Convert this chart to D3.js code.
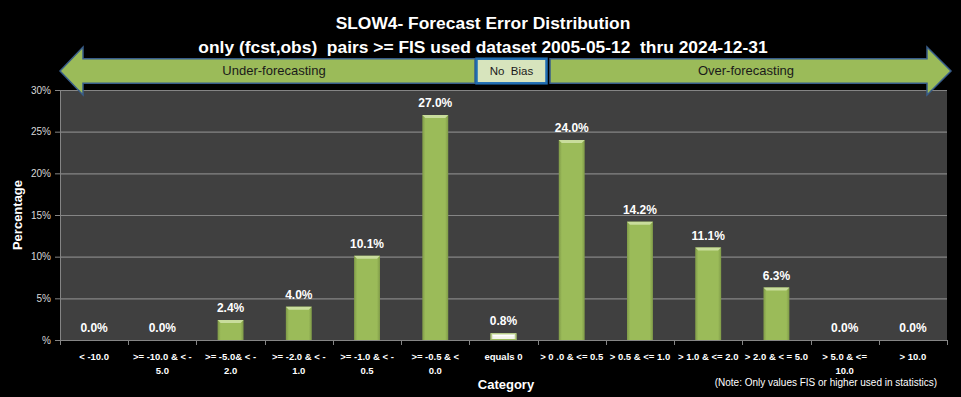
<!DOCTYPE html>
<html>
<head>
<meta charset="utf-8">
<script src="https://cdn.jsdelivr.net/npm/d3@7"></script>
<style>
  html, body { margin: 0; padding: 0; background: #000; }
  svg { display: block; }
  text { font-family: "Liberation Sans", Arial, sans-serif; }
</style>
</head>
<body>
<svg id="chart"></svg>
<script>
// chart data
var titleLines = ["SLOW4- Forecast Error Distribution",
  "only (fcst,obs)  pairs >= FIS used dataset 2005-05-12  thru 2024-12-31"]
var categories = ["< -10.0", ">= -10.0 & < -\n5.0", ">= -5.0& < -\n2.0", ">= -2.0 & < -\n1.0",
  ">= -1.0 & < -\n0.5", ">= -0.5 & <\n0.0", "equals 0", "> 0 .0 & <= 0.5", "> 0.5 & <= 1.0",
  "> 1.0 & <= 2.0", "> 2.0 & < = 5.0", "> 5.0 & <=\n10.0", "> 10.0"]
var percents = [0.0, 0.0, 2.4, 4.0, 10.1, 27.0, 0.8, 24.0, 14.2, 11.1, 6.3, 0.0, 0.0]
var yTicks = [0, 5, 10, 15, 20, 25, 30]

var width = 961,
  height = 397,
  margin = { top: 90, right: 14, bottom: 57, left: 60 },
  plotW = width - margin.left - margin.right,
  plotH = height - margin.top - margin.bottom

var svg = d3.select("#chart")
  .attr("width", width)
  .attr("height", height)

var defs = svg.append("defs")

// bar shading, roughly like the excel bevel
function barGradient(id, mid, dark) {
  var g = defs.append("linearGradient").attr("id", id)
    .attr("x1", 0).attr("x2", 1).attr("y1", 0).attr("y2", 0)
  g.append("stop").attr("offset", "0%").attr("stop-color", dark)
  g.append("stop").attr("offset", "12%").attr("stop-color", mid)
  g.append("stop").attr("offset", "88%").attr("stop-color", mid)
  g.append("stop").attr("offset", "100%").attr("stop-color", dark)
}
barGradient("barGreen", "#9bbb59", "#7f9a48")
barGradient("barWhite", "#f4f6ec", "#c9d3ad")

var data = categories.map(function (c, i) {
  return { cat: c, value: percents[i] }
})

var x = d3.scaleBand()
  .domain(categories)
  .range([0, plotW])
  .paddingInner(0.62)
  .paddingOuter(0.31)

var y = d3.scaleLinear()
  .domain([0, 30])
  .range([plotH, 0])

var plot = svg.append("g")
  .attr("transform", "translate(" + margin.left + "," + margin.top + ")")

plot.append("rect")
  .attr("width", plotW)
  .attr("height", plotH)
  .attr("fill", "#404040")

// gridlines
plot.selectAll("line.grid")
  .data(yTicks.filter(function (d) { return d > 0 }))
  .enter()
  .append("line")
  .attr("class", "grid")
  .attr("x1", 0)
  .attr("x2", plotW)
  .attr("y1", function (d) { return y(d) + 0.5 })
  .attr("y2", function (d) { return y(d) + 0.5 })
  .attr("stroke", "#858585")
  .attr("stroke-width", 1.2)

// y axis
var yAxis = d3.axisLeft(y)
  .tickValues(yTicks)
  .tickSize(5)
  .tickPadding(4)
  .tickFormat(function (d) { return d === 0 ? "%" : d + "%" })

var yg = plot.append("g").call(yAxis)
yg.select(".domain").attr("stroke", "#858585")
yg.selectAll(".tick line").attr("stroke", "#858585")
yg.selectAll(".tick text")
  .attr("fill", "#d9d9d9")
  .style("font-family", "'Liberation Sans', Arial, sans-serif")
  .style("font-size", "10px")

// x axis
var xg = plot.append("g")
  .attr("transform", "translate(0," + plotH + ")")

xg.append("line")
  .attr("x1", 0).attr("x2", plotW)
  .attr("y1", 0.5).attr("y2", 0.5)
  .attr("stroke", "#858585")

xg.selectAll("line.tick")
  .data(d3.range(categories.length + 1))
  .enter()
  .append("line")
  .attr("class", "tick")
  .attr("x1", function (i) { return Math.round(i * x.step()) + 0.5 })
  .attr("x2", function (i) { return Math.round(i * x.step()) + 0.5 })
  .attr("y1", 0)
  .attr("y2", 5)
  .attr("stroke", "#858585")

var catLabels = xg.selectAll("text.cat")
  .data(categories)
  .enter()
  .append("text")
  .attr("class", "cat")
  .attr("text-anchor", "middle")
  .attr("fill", "#ffffff")
  .style("font-weight", "bold")
  .style("font-size", "9.5px")
  .style("white-space", "pre")
  .attr("transform", function (d) {
    return "translate(" + (x(d) + x.bandwidth() / 2) + ",20)"
  })

catLabels.selectAll("tspan")
  .data(function (d) { return d.split("\n") })
  .enter()
  .append("tspan")
  .attr("x", 0)
  .attr("dy", function (d, i) { return i === 0 ? 0 : 14 })
  .text(function (d) { return d })

// bars
var bars = plot.selectAll("g.bar")
  .data(data)
  .enter()
  .append("g")
  .attr("class", "bar")

bars.filter(function (d) { return d.value > 0 })
  .append("rect")
  .attr("x", function (d) { return x(d.cat) })
  .attr("y", function (d) { return y(d.value) })
  .attr("width", x.bandwidth())
  .attr("height", function (d) { return plotH - y(d.value) })
  .attr("fill", function (d) { return d.cat === "equals 0" ? "url(#barWhite)" : "url(#barGreen)" })

// top bevel highlight
bars.filter(function (d) { return d.value > 0 })
  .append("path")
  .attr("d", function (d) {
    var x0 = x(d.cat), x1 = x0 + x.bandwidth(), t = y(d.value), b = 3
    return "M" + x0 + "," + t + "L" + x1 + "," + t + "L" + (x1 - b) + "," + (t + b) +
      "L" + (x0 + b) + "," + (t + b) + "Z"
  })
  .attr("fill", function (d) { return d.cat === "equals 0" ? "#ffffff" : "#c9dd9c" })

bars.filter(function (d) { return d.cat === "equals 0" })
  .append("rect")
  .attr("x", function (d) { return x(d.cat) + 0.5 })
  .attr("y", function (d) { return y(d.value) + 0.5 })
  .attr("width", x.bandwidth() - 1)
  .attr("height", function (d) { return plotH - y(d.value) - 1 })
  .attr("fill", "none")
  .attr("stroke", "#9bbb59")
  .attr("stroke-width", 1)

// value labels
bars.append("text")
  .attr("x", function (d) { return x(d.cat) + x.bandwidth() / 2 })
  .attr("y", function (d) { return y(d.value) - 8 })
  .attr("text-anchor", "middle")
  .attr("fill", "#ffffff")
  .style("font-weight", "bold")
  .style("font-size", "12px")
  .text(function (d) { return d.value.toFixed(1) + "%" })

// axis titles
svg.append("text")
  .attr("transform", "translate(22," + (margin.top + plotH / 2) + ") rotate(-90)")
  .attr("text-anchor", "middle")
  .attr("fill", "#ffffff")
  .style("font-weight", "bold")
  .style("font-size", "13px")
  .text("Percentage")

svg.append("text")
  .attr("x", 506)
  .attr("y", 389)
  .attr("text-anchor", "middle")
  .attr("fill", "#ffffff")
  .style("font-weight", "bold")
  .style("font-size", "13px")
  .text("Category")

svg.append("text")
  .attr("x", 937)
  .attr("y", 386)
  .attr("text-anchor", "end")
  .attr("fill", "#ffffff")
  .style("font-size", "10px")
  .text("(Note: Only values FIS or higher used in statistics)")

// title
svg.selectAll("text.title")
  .data(titleLines)
  .enter()
  .append("text")
  .attr("class", "title")
  .attr("x", 483)
  .attr("y", function (d, i) { return 29 + i * 24 })
  .attr("text-anchor", "middle")
  .attr("fill", "#ffffff")
  .style("font-weight", "bold")
  .style("font-size", "17.4px")
  .style("white-space", "pre")
  .text(function (d) { return d })

// bias arrows
var arrowMid = 71, headH = 24, shaftH = 12.3
var leftArrow = [[60, arrowMid], [83, arrowMid - headH], [83, arrowMid - shaftH],
  [475, arrowMid - shaftH], [475, arrowMid + shaftH], [83, arrowMid + shaftH],
  [83, arrowMid + headH]]
var rightArrow = [[550, arrowMid - shaftH], [927, arrowMid - shaftH], [927, arrowMid - headH],
  [951, arrowMid], [927, arrowMid + headH], [927, arrowMid + shaftH], [550, arrowMid + shaftH]]

svg.selectAll("path.arrow")
  .data([leftArrow, rightArrow])
  .enter()
  .append("path")
  .attr("class", "arrow")
  .attr("d", function (d) { return d3.line()(d) + "Z" })
  .attr("fill", "#9bbb59")
  .attr("stroke", "#385d8a")
  .attr("stroke-width", 1.5)
  .attr("stroke-linejoin", "miter")

svg.append("rect")
  .attr("x", 476.5)
  .attr("y", arrowMid - shaftH)
  .attr("width", 70)
  .attr("height", shaftH * 2)
  .attr("fill", "#d7e4bd")
  .attr("stroke", "#1f6db3")
  .attr("stroke-width", 2.5)

var arrowText = [["Under-forecasting", 274, 13], ["No  Bias", 511.5, 11.5], ["Over-forecasting", 746, 13]]
svg.selectAll("text.arrowlbl")
  .data(arrowText)
  .enter()
  .append("text")
  .attr("class", "arrowlbl")
  .attr("x", function (d) { return d[1] })
  .attr("y", 75)
  .attr("text-anchor", "middle")
  .attr("fill", "#1a1a1a")
  .style("font-size", function (d) { return d[2] + "px" })
  .style("white-space", "pre")
  .text(function (d) { return d[0] })
</script>
</body>
</html>
